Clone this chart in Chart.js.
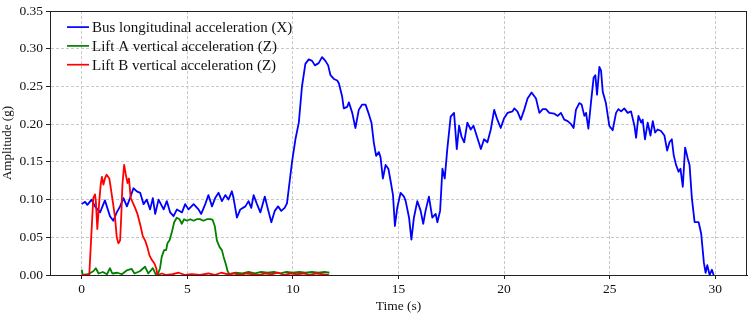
<!DOCTYPE html>
<html><head><meta charset="utf-8">
<script src="https://cdn.jsdelivr.net/npm/chart.js@4/dist/chart.umd.min.js"></script>
<style>html,body{margin:0;padding:0;background:#fff}#wrap{width:749px;height:315px}</style>
</head><body><div id="wrap"><canvas id="c" width="749" height="315"></canvas></div>
<script>
const seriesLabels = ["Bus longitudinal acceleration (X)", "Lift A vertical acceleration (Z)", "Lift B vertical acceleration (Z)"];
const xTicks = [0, 5, 10, 15, 20, 25, 30];
const yTicks = [0, 0.05, 0.10, 0.15, 0.20, 0.25, 0.30, 0.35];

const busT = [0,0.16,0.27,0.47,0.63,0.87,1.1,1.34,1.5,1.66,1.82,1.98,2.14,2.29,2.45,2.61,2.77,2.93,3.08,3.24,3.37,3.48,3.64,3.88,4.03,4.19,4.35,4.51,4.75,4.9,5.06,5.3,5.53,5.66,5.85,6.0,6.17,6.32,6.48,6.64,6.8,6.95,7.11,7.19,7.35,7.51,7.75,7.9,8.03,8.14,8.3,8.46,8.67,8.82,8.98,9.14,9.3,9.45,9.61,9.72,9.85,9.96,10.12,10.28,10.43,10.59,10.75,10.91,11.04,11.22,11.38,11.54,11.67,11.78,11.94,12.1,12.18,12.33,12.41,12.57,12.65,12.81,12.96,13.12,13.28,13.44,13.6,13.72,13.83,13.94,14.07,14.15,14.26,14.39,14.52,14.63,14.74,14.83,14.94,15.1,15.26,15.34,15.5,15.61,15.73,15.89,16.05,16.17,16.28,16.44,16.6,16.76,16.84,16.97,17.08,17.19,17.31,17.47,17.63,17.76,17.87,17.98,18.11,18.26,18.42,18.55,18.71,18.9,19.05,19.21,19.37,19.53,19.68,19.84,20.0,20.16,20.4,20.48,20.63,20.79,20.95,21.11,21.3,21.51,21.67,21.83,21.98,22.14,22.38,22.54,22.69,22.85,23.01,23.17,23.29,23.4,23.56,23.67,23.8,23.88,23.99,24.11,24.24,24.32,24.4,24.51,24.59,24.67,24.82,24.98,25.14,25.3,25.41,25.54,25.69,25.85,26.01,26.17,26.25,26.36,26.49,26.56,26.67,26.8,26.93,27.04,27.15,27.27,27.43,27.59,27.72,27.83,27.94,28.03,28.14,28.26,28.35,28.46,28.57,28.7,28.78,28.89,29.02,29.21,29.33,29.46,29.54,29.62,29.73,29.84,29.92];
const busV = [0.094,0.097,0.093,0.100,0.091,0.083,0.099,0.078,0.072,0.083,0.091,0.102,0.091,0.102,0.115,0.111,0.109,0.094,0.100,0.087,0.102,0.081,0.100,0.087,0.098,0.083,0.078,0.087,0.083,0.094,0.087,0.094,0.087,0.081,0.094,0.106,0.091,0.102,0.109,0.098,0.106,0.100,0.111,0.102,0.076,0.087,0.091,0.098,0.089,0.106,0.094,0.083,0.104,0.087,0.070,0.085,0.091,0.085,0.089,0.095,0.125,0.150,0.180,0.202,0.250,0.280,0.286,0.284,0.278,0.281,0.289,0.284,0.278,0.265,0.260,0.258,0.254,0.237,0.221,0.223,0.229,0.215,0.195,0.219,0.226,0.226,0.213,0.202,0.176,0.158,0.163,0.156,0.128,0.146,0.141,0.124,0.106,0.065,0.089,0.109,0.104,0.098,0.076,0.047,0.076,0.098,0.085,0.068,0.085,0.104,0.076,0.081,0.070,0.085,0.141,0.128,0.167,0.210,0.215,0.167,0.198,0.184,0.176,0.202,0.193,0.198,0.184,0.167,0.180,0.176,0.193,0.219,0.206,0.195,0.208,0.215,0.217,0.221,0.217,0.206,0.219,0.234,0.242,0.234,0.215,0.220,0.220,0.215,0.214,0.211,0.215,0.206,0.204,0.200,0.195,0.219,0.228,0.226,0.211,0.215,0.194,0.228,0.262,0.265,0.239,0.276,0.271,0.243,0.228,0.198,0.192,0.215,0.220,0.217,0.221,0.215,0.217,0.198,0.182,0.211,0.202,0.206,0.180,0.202,0.185,0.204,0.189,0.193,0.191,0.185,0.165,0.176,0.180,0.159,0.146,0.137,0.141,0.117,0.169,0.154,0.146,0.102,0.070,0.070,0.055,0.016,0.003,0.013,0.000,0.007,0.000];

const liftAT = [0,0.05,0.3,0.55,0.67,0.8,1.0,1.2,1.34,1.45,1.7,1.9,2.13,2.37,2.5,2.75,3.0,3.15,3.37,3.5,3.62,3.71,3.79,3.9,4.0,4.06,4.16,4.27,4.38,4.5,4.63,4.74,4.85,4.98,5.14,5.3,5.45,5.6,5.77,5.93,6.1,6.2,6.3,6.4,6.53,6.64,6.72,6.83,6.91,7.0,7.3,7.6,7.9,8.2,8.5,8.8,9.1,9.4,9.7,10.0,10.3,10.6,10.9,11.2,11.5,11.73];
const liftAV = [0.007,0.000,0.001,0.005,0.009,0.002,0.004,0.001,0.009,0.002,0.003,0.001,0.006,0.008,0.002,0.005,0.011,0.002,0.009,0.001,0.002,0.009,0.024,0.033,0.033,0.042,0.046,0.057,0.070,0.076,0.074,0.068,0.074,0.072,0.074,0.072,0.074,0.074,0.072,0.074,0.074,0.073,0.065,0.046,0.037,0.033,0.024,0.014,0.005,0.001,0.003,0.002,0.004,0.002,0.004,0.003,0.004,0.002,0.004,0.003,0.004,0.003,0.004,0.003,0.004,0.003];

const liftBT = [0,0.36,0.42,0.5,0.55,0.63,0.67,0.74,0.79,0.84,0.9,0.96,1.03,1.1,1.18,1.31,1.38,1.47,1.58,1.66,1.74,1.82,1.87,1.93,2.01,2.09,2.17,2.24,2.32,2.42,2.53,2.64,2.77,2.89,3.0,3.11,3.21,3.32,3.43,3.53,3.59,3.8,4.0,4.3,4.6,4.9,5.2,5.6,6.0,6.3,6.6,6.9,7.2,7.5,7.8,8.1,8.4,8.7,9.0,9.3,9.6,9.9,10.2,10.5,10.8,11.1,11.4,11.7];
const liftBV = [0,0,0.033,0.076,0.102,0.107,0.098,0.061,0.081,0.100,0.120,0.130,0.120,0.128,0.133,0.128,0.115,0.098,0.076,0.050,0.042,0.046,0.076,0.120,0.146,0.133,0.122,0.128,0.102,0.096,0.089,0.081,0.067,0.052,0.046,0.037,0.026,0.020,0.016,0.009,0.000,0.002,0.000,0.001,0.003,0.000,0.001,0.000,0.002,0.000,0.003,0.001,0.002,0.000,0.002,0.001,0.000,0.002,0.001,0.003,0.000,0.002,0.001,0.002,0.000,0.002,0.001,0.000];

const colors = ["#0000ff", "#008000", "#ff0000"];
const pts = (t, v) => t.map((x, i) => ({x: x, y: v[i]}));
const FONT = "'Liberation Serif', 'Times New Roman', serif";

const frameAndLegend = {
  id: 'frameAndLegend',
  afterDraw(chart) {
    const {ctx, chartArea: a} = chart;
    ctx.save();
    ctx.strokeStyle = '#222'; ctx.lineWidth = 1;
    ctx.strokeRect(Math.round(a.left) + 0.5, Math.round(a.top) + 0.5, Math.round(a.right - a.left) - 1, Math.round(a.bottom - a.top));
    ctx.font = '15px ' + FONT;
    ctx.textBaseline = 'middle';
    chart.data.datasets.forEach((ds, i) => {
      const y = a.top + 16 + i * 18.8;
      ctx.strokeStyle = ds.borderColor; ctx.lineWidth = 1.7;
      ctx.beginPath(); ctx.moveTo(a.left + 17, y); ctx.lineTo(a.left + 39, y); ctx.stroke();
      ctx.fillStyle = '#111';
      ctx.fillText(ds.label, a.left + 42, y + 1);
    });
    ctx.restore();
  }
};

new Chart(document.getElementById('c'), {
  type: 'line',
  data: {
    datasets: [
      {label: seriesLabels[0], data: pts(busT, busV), borderColor: colors[0], order: 2},
      {label: seriesLabels[1], data: pts(liftAT, liftAV), borderColor: colors[1], order: 1},
      {label: seriesLabels[2], data: pts(liftBT, liftBV), borderColor: colors[2], order: 0}
    ]
  },
  options: {
    responsive: false, animation: false,
    devicePixelRatio: 1,
    layout: {padding: {top: 6, right: 2, left: 0, bottom: 0}},
    elements: {point: {radius: 0}, line: {borderWidth: 1.8, tension: 0, borderJoinStyle: 'round'}},
    plugins: {legend: {display: false}, tooltip: {enabled: false}},
    scales: {
      x: {
        type: 'linear', min: -1.5, max: 31.5,
        afterBuildTicks: s => { s.ticks = xTicks.map(v => ({value: v})); },
        afterFit: s => { s.height = 40; },
        grid: {color: '#c8c8c8', tickColor: '#222', tickLength: 4, drawTicks: true, tickBorderDash: []},
        border: {display: true, color: '#222', width: 1, dash: [3, 2]},
        ticks: {color: '#111', font: {family: FONT, size: 13.5}, padding: 2, maxRotation: 0,
          callback: v => String(v)},
        title: {display: true, text: 'Time (s)', color: '#111', font: {family: FONT, size: 13.5}, padding: {top: 0, bottom: 0}}
      },
      y: {
        type: 'linear', min: 0, max: 0.35,
        afterBuildTicks: s => { s.ticks = yTicks.map(v => ({value: v})); },
        afterFit: s => { s.width = 50; },
        grid: {color: '#c8c8c8', tickColor: '#222', tickLength: 4, drawTicks: true, tickBorderDash: []},
        border: {display: true, color: '#222', width: 1, dash: [3, 2]},
        ticks: {color: '#111', font: {family: FONT, size: 13.5}, padding: 3,
          callback: v => v.toFixed(2)},
        title: {display: true, text: 'Amplitude (g)', color: '#111', font: {family: FONT, size: 13}, padding: {top: 0, bottom: 2}}
      }
    }
  },
  plugins: [frameAndLegend]
});
</script></body></html>
